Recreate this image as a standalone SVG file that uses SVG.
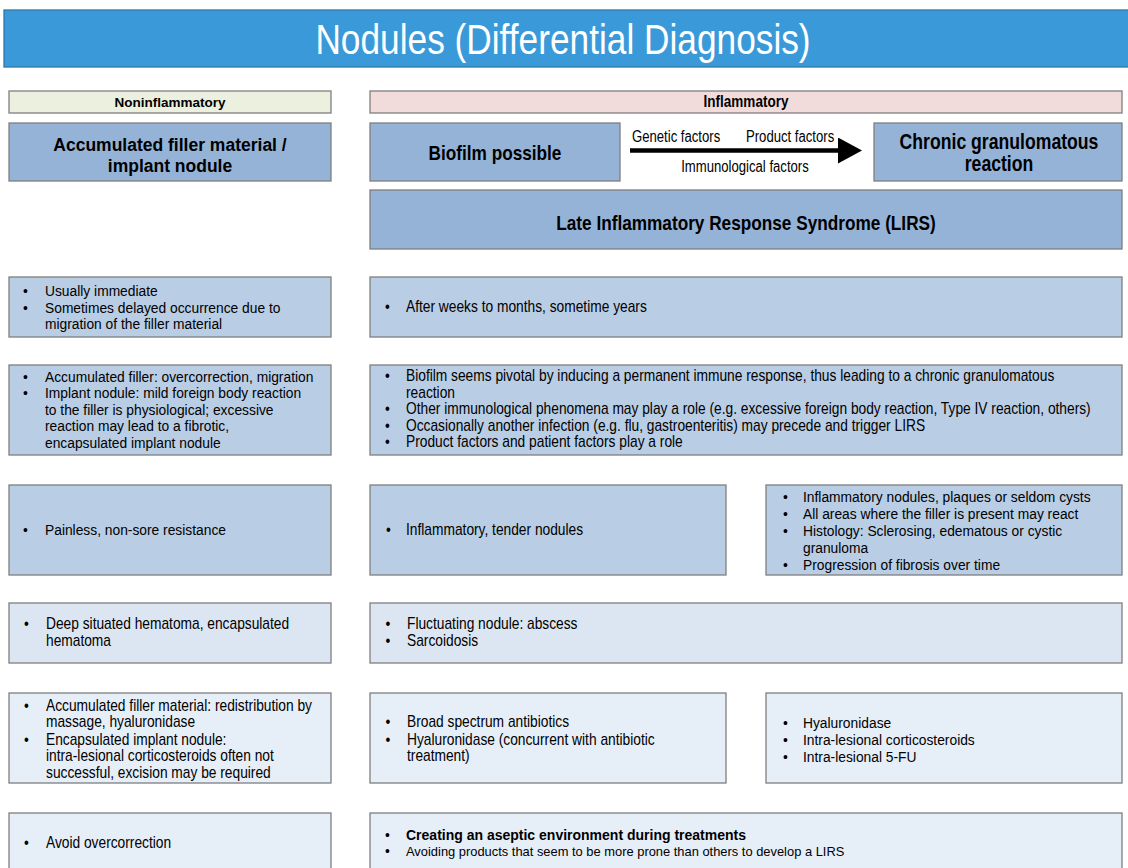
<svg xmlns="http://www.w3.org/2000/svg" width="1128" height="868" viewBox="0 0 1128 868">
  <style>
    .box { stroke: #7f7f7f; stroke-width: 1.3; }
    .dk { fill: #95b3d7; }
    .md { fill: #b9cde5; }
    .lt { fill: #dce6f2; }
    .xl { fill: #e6eef8; }
    .r { font-family: "Liberation Sans", Arial, sans-serif; font-size: 13.8px; fill: #000; }
    .n { font-family: "Liberation Sans", Arial, sans-serif; font-size: 16.2px; fill: #000; }
    .b { font-weight: bold; }
    .c { text-anchor: middle; }
  </style>
  <defs>
    <marker id="head" markerUnits="userSpaceOnUse" markerWidth="26" markerHeight="28" refX="0" refY="13" orient="auto">
      <path d="M0,0 L24,13 L0,26 Z" fill="#000"/>
    </marker>
  </defs>

  <rect width="1128" height="868" fill="#ffffff"/>

  <!-- title banner -->
  <g id="title">
    <rect x="4" y="10" width="1130" height="57" fill="#3a9ad9" stroke="#2f77a8" stroke-width="1.3"/>
    <g transform="translate(563 0) scale(.84 1)">
      <text class="n c" x="0" y="54" style="font-size:42px;fill:#ffffff">Nodules (Differential Diagnosis)</text>
    </g>
  </g>

  <!-- column headers -->
  <g id="hdr-noninflammatory">
    <rect class="box" x="9" y="91" width="322" height="22" fill="#ebf1de"/>
    <text class="r b c" x="170" y="106.5" style="font-size:13.5px">Noninflammatory</text>
  </g>
  <g id="hdr-inflammatory">
    <rect class="box" x="370" y="91" width="752" height="22" fill="#f2dcdb"/>
    <g transform="translate(746 0) scale(.82 1)">
      <text class="n b c" x="0" y="107.5" style="font-size:16.5px">Inflammatory</text>
    </g>
  </g>

  <!-- main entities -->
  <g id="accumulated">
    <rect class="box dk" x="9" y="123" width="322" height="58"/>
    <text class="r b c" x="170" y="151" style="font-size:17.5px">Accumulated filler material /</text>
    <text class="r b c" x="170" y="172" style="font-size:17.5px">implant nodule</text>
  </g>
  <g id="biofilm">
    <rect class="box dk" x="370" y="123" width="250" height="58"/>
    <g transform="translate(495 0) scale(.82 1)">
      <text class="n b c" x="0" y="160" style="font-size:21px">Biofilm possible</text>
    </g>
  </g>
  <g id="chronic">
    <rect class="box dk" x="874" y="123" width="248" height="58"/>
    <g transform="translate(999 0) scale(.82 1)">
      <text class="n b c" x="0" y="149.5" style="font-size:21.5px">Chronic granulomatous</text>
      <text class="n b c" x="0" y="171.5" style="font-size:21.5px">reaction</text>
    </g>
  </g>
  <g id="lirs">
    <rect class="box dk" x="370" y="190" width="752" height="59"/>
    <g transform="translate(746 0) scale(.82 1)">
      <text class="n b c" x="0" y="230" style="font-size:21px">Late Inflammatory Response Syndrome (LIRS)</text>
    </g>
  </g>

  <!-- connectors -->
  <g id="connectors">
    <path d="M630,150.5 H838" stroke="#000" stroke-width="4.5" fill="none" marker-end="url(#head)"/>
    <g transform="translate(632 0) scale(.82 1)">
      <text class="n" x="0" y="142" style="font-size:16px">Genetic factors</text>
    </g>
    <g transform="translate(746 0) scale(.82 1)">
      <text class="n" x="0" y="142" style="font-size:16px">Product factors</text>
    </g>
    <g transform="translate(745 0) scale(.82 1)">
      <text class="n c" x="0" y="172" style="font-size:16px">Immunological factors</text>
    </g>
  </g>

  <!-- onset -->
  <g id="onset-non">
    <rect class="box md" x="9" y="277" width="322" height="60"/>
    <text class="r" x="23" y="296">•</text>
    <text class="r" x="45" y="296">Usually immediate</text>
    <text class="r" x="23" y="312.5">•</text>
    <text class="r" x="45" y="312.5">Sometimes delayed occurrence due to</text>
    <text class="r" x="45" y="329">migration of the filler material</text>
  </g>
  <g id="onset-inf">
    <rect class="box md" x="370" y="277" width="752" height="60"/>
    <g transform="translate(406 0) scale(.85 1)">
      <text class="n" x="-24.7" y="312">•</text>
      <text class="n" x="0" y="312">After weeks to months, sometime years</text>
    </g>
  </g>

  <!-- cause -->
  <g id="cause-non">
    <rect class="box md" x="9" y="365" width="322" height="90"/>
    <text class="r" x="23" y="381.5">•</text>
    <text class="r" x="45" y="381.5">Accumulated filler: overcorrection, migration</text>
    <text class="r" x="23" y="398">•</text>
    <text class="r" x="45" y="398">Implant nodule: mild foreign body reaction</text>
    <text class="r" x="45" y="414.5">to the filler is physiological; excessive</text>
    <text class="r" x="45" y="431">reaction may lead to a fibrotic,</text>
    <text class="r" x="45" y="447.5">encapsulated implant nodule</text>
  </g>
  <g id="cause-inf">
    <rect class="box md" x="370" y="365" width="752" height="90"/>
    <g transform="translate(406 0) scale(.85 1)">
      <text class="n" x="-24.7" y="381.5">•</text>
      <text class="n" x="0" y="381.5">Biofilm seems pivotal by inducing a permanent immune response, thus leading to a chronic granulomatous</text>
      <text class="n" x="0" y="398">reaction</text>
      <text class="n" x="-24.7" y="414.5">•</text>
      <text class="n" x="0" y="414.5">Other immunological phenomena may play a role (e.g. excessive foreign body reaction, Type IV reaction, others)</text>
      <text class="n" x="-24.7" y="431">•</text>
      <text class="n" x="0" y="431">Occasionally another infection (e.g. flu, gastroenteritis) may precede and trigger LIRS</text>
      <text class="n" x="-24.7" y="447.5">•</text>
      <text class="n" x="0" y="447.5">Product factors and patient factors play a role</text>
    </g>
  </g>

  <!-- clinical presentation -->
  <g id="clinic-non">
    <rect class="box md" x="9" y="485" width="322" height="90"/>
    <text class="r" x="23" y="535">•</text>
    <text class="r" x="45" y="535">Painless, non-sore resistance</text>
  </g>
  <g id="clinic-acute">
    <rect class="box md" x="370" y="485" width="356" height="90"/>
    <g transform="translate(406 0) scale(.85 1)">
      <text class="n" x="-23.5" y="535.5">•</text>
      <text class="n" x="0" y="535.5">Inflammatory, tender nodules</text>
    </g>
  </g>
  <g id="clinic-chronic">
    <rect class="box md" x="766" y="485" width="356" height="90"/>
    <text class="r" x="783" y="501.5">•</text>
    <text class="r" x="803" y="501.5">Inflammatory nodules, plaques or seldom cysts</text>
    <text class="r" x="783" y="518.5">•</text>
    <text class="r" x="803" y="518.5">All areas where the filler is present may react</text>
    <text class="r" x="783" y="536">•</text>
    <text class="r" x="803" y="536">Histology: Sclerosing, edematous or cystic</text>
    <text class="r" x="803" y="552.5">granuloma</text>
    <text class="r" x="783" y="569.5">•</text>
    <text class="r" x="803" y="569.5">Progression of fibrosis over time</text>
  </g>

  <!-- differential -->
  <g id="diff-non">
    <rect class="box lt" x="9" y="603" width="322" height="60"/>
    <g transform="translate(46 0) scale(.85 1)">
      <text class="n" x="-25.9" y="629.5">•</text>
      <text class="n" x="0" y="629.5">Deep situated hematoma, encapsulated</text>
      <text class="n" x="0" y="646.5">hematoma</text>
    </g>
  </g>
  <g id="diff-inf">
    <rect class="box lt" x="370" y="603" width="752" height="60"/>
    <g transform="translate(407 0) scale(.85 1)">
      <text class="n" x="-25.3" y="629.5">•</text>
      <text class="n" x="0" y="629.5">Fluctuating nodule: abscess</text>
      <text class="n" x="-25.3" y="646.5">•</text>
      <text class="n" x="0" y="646.5">Sarcoidosis</text>
    </g>
  </g>

  <!-- treatment -->
  <g id="treat-non">
    <rect class="box xl" x="9" y="693" width="322" height="90"/>
    <g transform="translate(46 0) scale(.85 1)">
      <text class="n" x="-25.9" y="711">•</text>
      <text class="n" x="0" y="711">Accumulated filler material: redistribution by</text>
      <text class="n" x="0" y="727.5">massage, hyaluronidase</text>
      <text class="n" x="-25.9" y="745">•</text>
      <text class="n" x="0" y="745">Encapsulated implant nodule:</text>
      <text class="n" x="0" y="761.5">intra-lesional corticosteroids often not</text>
      <text class="n" x="0" y="778">successful, excision may be required</text>
    </g>
  </g>
  <g id="treat-acute">
    <rect class="box xl" x="370" y="693" width="356" height="90"/>
    <g transform="translate(407 0) scale(.85 1)">
      <text class="n" x="-25.3" y="727.5">•</text>
      <text class="n" x="0" y="727.5">Broad spectrum antibiotics</text>
      <text class="n" x="-25.3" y="745">•</text>
      <text class="n" x="0" y="745">Hyaluronidase (concurrent with antibiotic</text>
      <text class="n" x="0" y="761.5">treatment)</text>
    </g>
  </g>
  <g id="treat-chronic">
    <rect class="box xl" x="766" y="693" width="356" height="90"/>
    <text class="r" x="783" y="727.5">•</text>
    <text class="r" x="803" y="727.5">Hyaluronidase</text>
    <text class="r" x="783" y="744.5">•</text>
    <text class="r" x="803" y="744.5">Intra-lesional corticosteroids</text>
    <text class="r" x="783" y="761.5">•</text>
    <text class="r" x="803" y="761.5">Intra-lesional 5-FU</text>
  </g>

  <!-- prevention -->
  <g id="prevent-non">
    <rect class="box xl" x="9" y="813" width="322" height="60"/>
    <g transform="translate(46 0) scale(.85 1)">
      <text class="n" x="-25.9" y="848.5">•</text>
      <text class="n" x="0" y="848.5">Avoid overcorrection</text>
    </g>
  </g>
  <g id="prevent-inf">
    <rect class="box xl" x="370" y="813" width="752" height="60"/>
    <text class="r" x="385" y="839.5">•</text>
    <text class="r b" x="406" y="839.5" style="font-size:14px">Creating an aseptic environment during treatments</text>
    <text class="r" x="385" y="856">•</text>
    <text class="r" x="406" y="856" style="font-size:12.9px">Avoiding products that seem to be more prone than others to develop a LIRS</text>
  </g>
</svg>
